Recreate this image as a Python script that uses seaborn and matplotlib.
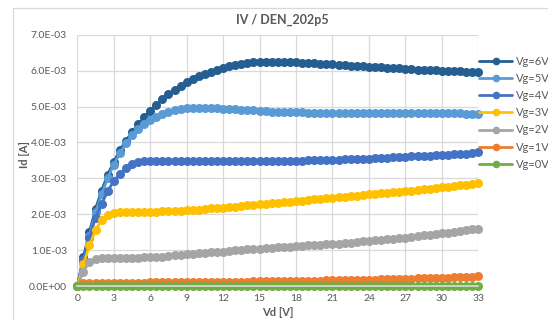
import matplotlib

matplotlib.use("Agg")
import matplotlib.pyplot as plt
import numpy as np
import pandas as pd
import seaborn as sns
from matplotlib.lines import Line2D
from matplotlib.ticker import FuncFormatter

# drain voltage sweep [V]
VD = [
    0.0, 0.5, 1.0, 1.5, 2.0, 2.5, 3.0, 3.5, 4.0, 4.5,
    5.0, 5.5, 6.0, 6.5, 7.0, 7.5, 8.0, 8.5, 9.0, 9.5,
    10.0, 10.5, 11.0, 11.5, 12.0, 12.5, 13.0, 13.5, 14.0, 14.5,
    15.0, 15.5, 16.0, 16.5, 17.0, 17.5, 18.0, 18.5, 19.0, 19.5,
    20.0, 20.5, 21.0, 21.5, 22.0, 22.5, 23.0, 23.5, 24.0, 24.5,
    25.0, 25.5, 26.0, 26.5, 27.0, 27.5, 28.0, 28.5, 29.0, 29.5,
    30.0, 30.5, 31.0, 31.5, 32.0, 32.5, 33.0,
]

# drain current [mA]
ID_VG6 = [
    0.00, 0.80, 1.50, 2.15, 2.65, 3.10, 3.45, 3.78, 4.05, 4.28,
    4.50, 4.70, 4.88, 5.05, 5.20, 5.34, 5.46, 5.57, 5.67, 5.76,
    5.84, 5.91, 5.97, 6.03, 6.08, 6.12, 6.16, 6.19, 6.21, 6.23,
    6.24, 6.25, 6.25, 6.25, 6.24, 6.24, 6.23, 6.22, 6.21, 6.20,
    6.19, 6.18, 6.17, 6.16, 6.15, 6.14, 6.13, 6.12, 6.11, 6.10,
    6.09, 6.08, 6.07, 6.06, 6.05, 6.04, 6.03, 6.02, 6.02, 6.01,
    6.00, 5.99, 5.99, 5.98, 5.97, 5.97, 5.96,
]
ID_VG5 = [
    0.00, 0.70, 1.40, 2.05, 2.55, 3.00, 3.38, 3.70, 3.97, 4.20,
    4.38, 4.52, 4.63, 4.72, 4.80, 4.86, 4.90, 4.93, 4.95, 4.96,
    4.96, 4.96, 4.95, 4.95, 4.94, 4.93, 4.92, 4.91, 4.90, 4.89,
    4.88, 4.87, 4.86, 4.86, 4.85, 4.85, 4.84, 4.84, 4.83, 4.83,
    4.83, 4.82, 4.82, 4.82, 4.82, 4.82, 4.81, 4.81, 4.81, 4.81,
    4.81, 4.81, 4.81, 4.81, 4.81, 4.81, 4.81, 4.81, 4.81, 4.81,
    4.81, 4.81, 4.81, 4.81, 4.80, 4.80, 4.80,
]
ID_VG4 = [
    0.00, 0.72, 1.35, 1.90, 2.28, 2.65, 2.92, 3.12, 3.28, 3.39,
    3.45, 3.47, 3.48, 3.48, 3.48, 3.47, 3.47, 3.47, 3.47, 3.47,
    3.47, 3.47, 3.47, 3.47, 3.47, 3.47, 3.47, 3.47, 3.47, 3.47,
    3.47, 3.48, 3.48, 3.48, 3.48, 3.49, 3.49, 3.49, 3.50, 3.50,
    3.51, 3.51, 3.52, 3.52, 3.53, 3.53, 3.54, 3.55, 3.55, 3.56,
    3.57, 3.57, 3.58, 3.59, 3.60, 3.61, 3.62, 3.62, 3.63, 3.64,
    3.65, 3.66, 3.67, 3.68, 3.69, 3.71, 3.73,
]
ID_VG3 = [
    0.00, 0.60, 1.13, 1.55, 1.84, 1.98, 2.03, 2.05, 2.06, 2.06,
    2.06, 2.06, 2.07, 2.07, 2.08, 2.08, 2.09, 2.10, 2.11, 2.12,
    2.13, 2.14, 2.16, 2.17, 2.18, 2.20, 2.21, 2.23, 2.25, 2.26,
    2.28, 2.29, 2.31, 2.32, 2.34, 2.35, 2.37, 2.38, 2.40, 2.41,
    2.43, 2.44, 2.46, 2.47, 2.49, 2.50, 2.52, 2.53, 2.55, 2.57,
    2.58, 2.60, 2.61, 2.63, 2.65, 2.66, 2.68, 2.70, 2.71, 2.73,
    2.75, 2.77, 2.78, 2.80, 2.82, 2.84, 2.86,
]
ID_VG2 = [
    0.00, 0.40, 0.68, 0.75, 0.77, 0.78, 0.78, 0.78, 0.79, 0.79,
    0.79, 0.80, 0.80, 0.81, 0.82, 0.83, 0.85, 0.86, 0.88, 0.89,
    0.91, 0.92, 0.94, 0.95, 0.96, 0.98, 0.99, 1.00, 1.02, 1.03,
    1.04, 1.05, 1.07, 1.08, 1.09, 1.10, 1.11, 1.12, 1.13, 1.14,
    1.15, 1.16, 1.17, 1.18, 1.20, 1.21, 1.22, 1.24, 1.25, 1.27,
    1.28, 1.30, 1.31, 1.33, 1.35, 1.37, 1.39, 1.41, 1.43, 1.45,
    1.47, 1.49, 1.51, 1.53, 1.56, 1.58, 1.60,
]
ID_VG1 = [
    0.00, 0.07, 0.08, 0.09, 0.09, 0.09, 0.09, 0.09, 0.09, 0.09,
    0.09, 0.09, 0.10, 0.10, 0.10, 0.10, 0.10, 0.10, 0.10, 0.11,
    0.11, 0.11, 0.11, 0.11, 0.12, 0.12, 0.12, 0.12, 0.12, 0.13,
    0.13, 0.13, 0.13, 0.14, 0.14, 0.14, 0.14, 0.15, 0.15, 0.15,
    0.15, 0.16, 0.16, 0.16, 0.17, 0.17, 0.17, 0.18, 0.18, 0.18,
    0.19, 0.19, 0.19, 0.20, 0.20, 0.20, 0.21, 0.21, 0.22, 0.22,
    0.23, 0.23, 0.24, 0.24, 0.25, 0.26, 0.27,
]
ID_VG0 = [
    0.00, 0.00, 0.00, 0.00, 0.00, 0.00, 0.00, 0.00, 0.00, 0.00,
    0.00, 0.00, 0.00, 0.00, 0.00, 0.00, 0.00, 0.00, 0.00, 0.00,
    0.00, 0.00, 0.00, 0.00, 0.00, 0.00, 0.00, 0.00, 0.00, 0.00,
    0.00, 0.00, 0.00, 0.00, 0.00, 0.00, 0.00, 0.00, 0.00, 0.00,
    0.00, 0.00, 0.00, 0.00, 0.00, 0.00, 0.00, 0.00, 0.00, 0.00,
    0.00, 0.00, 0.00, 0.00, 0.00, 0.00, 0.00, 0.00, 0.00, 0.00,
    0.00, 0.00, 0.00, 0.00, 0.00, 0.00, 0.00,
]

LABELS = ["Vg=6V", "Vg=5V", "Vg=4V", "Vg=3V", "Vg=2V", "Vg=1V", "Vg=0V"]
SERIES = [ID_VG6, ID_VG5, ID_VG4, ID_VG3, ID_VG2, ID_VG1, ID_VG0]
COLORS = ["#255E91", "#5B9BD5", "#4472C4", "#FFC000", "#A5A5A5", "#ED7D31", "#70AD47"]
X_TICKS = [0, 3, 6, 9, 12, 15, 18, 21, 24, 27, 30, 33]
Y_TICKS = [0.0, 1e-3, 2e-3, 3e-3, 4e-3, 5e-3, 6e-3, 7e-3]

TEXT = "#595959"
GRID = "#D9D9D9"
W, H = 548, 320

sns.set_theme(style="white")
plt.rcParams["font.family"] = ["Lato", "DejaVu Sans"]

frame = pd.concat(
    [
        pd.DataFrame({"Vd": VD, "Id": np.array(vals) * 1e-3, "Vg": label})
        for label, vals in zip(LABELS, SERIES)
    ],
    ignore_index=True,
)

fig = plt.figure(figsize=(W / 100, H / 100), dpi=100)
ax = fig.add_axes([77.3 / W, 34 / H, 401 / W, 251.3 / H])

sns.lineplot(
    data=frame,
    x="Vd",
    y="Id",
    hue="Vg",
    hue_order=LABELS,
    palette=COLORS,
    marker="o",
    markersize=6.5,
    markeredgewidth=0,
    linewidth=2,
    sort=False,
    estimator=None,
    ax=ax,
)
for line in ax.lines:
    line.set_clip_on(False)

ax.set_xlim(0, 33)
ax.set_ylim(0, 7e-3)
ax.set_xticks(X_TICKS)
ax.set_yticks(Y_TICKS)
ax.yaxis.set_major_formatter(FuncFormatter(lambda v, _: f"{v:.1E}"))
ax.grid(True, color=GRID, linewidth=0.9)
ax.set_axisbelow(True)
for side, spine in ax.spines.items():
    spine.set_visible(side == "bottom")
    spine.set_color(GRID)
ax.tick_params(length=0, labelsize=7.5, colors=TEXT)
ax.tick_params(axis="x", pad=6)
ax.tick_params(axis="y", pad=7.5)
ax.set_xlabel("")
ax.set_ylabel("")

handles, labels = ax.get_legend_handles_labels()
for handle in handles:
    handle.set_markersize(5.5)
ax.legend_.remove()
fig.legend(
    handles,
    labels,
    loc="upper left",
    bbox_to_anchor=(479 / W, 1 - 56 / H),
    frameon=False,
    fontsize=8,
    handlelength=3.0,
    handletextpad=0.3,
    labelspacing=0.55,
    borderpad=0,
    borderaxespad=0,
    labelcolor=TEXT,
)

fig.text(282 / W, 1 - 20 / H, "IV / DEN_202p5", ha="center", va="center",
         fontsize=9, fontweight="bold", color=TEXT)
fig.text(278 / W, 1 - 312 / H, "Vd [V]", ha="center", va="center",
         fontsize=8, fontweight="bold", color=TEXT)
fig.text(24 / W, 1 - 155 / H, "Id [A]", ha="center", va="center",
         rotation=90, fontsize=8, fontweight="bold", color=TEXT)

# chart area border
fig.add_artist(Line2D([13.3 / W, 1], [1 - 8.3 / H, 1 - 8.3 / H],
                      color=GRID, linewidth=0.9))
fig.add_artist(Line2D([13.3 / W, 13.3 / W], [0, 1 - 8.3 / H],
                      color=GRID, linewidth=0.9))

fig.savefig("out.png", dpi=100, facecolor="white")
